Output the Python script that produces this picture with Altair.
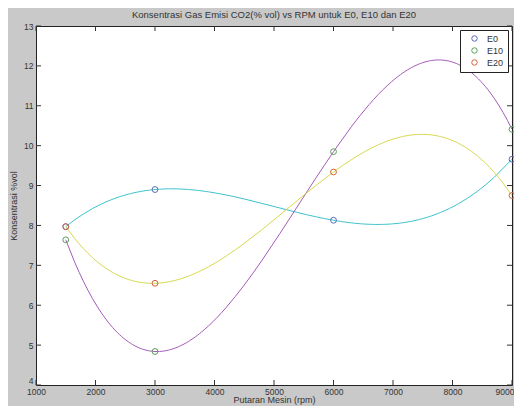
import altair as alt
import pandas as pd

rpm = [1500, 3000, 6000, 9000]
e0 = [7.97, 8.90, 8.13, 9.66]
e10 = [7.64, 4.84, 9.85, 10.41]
e20 = [7.97, 6.55, 9.34, 8.75]
series_names = ["E0", "E10", "E20"]
x_ticks = [1000, 2000, 3000, 4000, 5000, 6000, 7000, 8000, 9000]
y_ticks = [4, 5, 6, 7, 8, 9, 10, 11, 12, 13]
title_text = "Konsentrasi Gas Emisi CO2(% vol) vs RPM untuk E0, E10 dan E20"

marker_colors = ["#5a6cb8", "#5a9e5a", "#d2643c"]
line_colors = ["#3cc2cc", "#a45cb8", "#d8d84e"]

rows = []
for name, vals in zip(series_names, [e0, e10, e20]):
    for r, v in zip(rpm, vals):
        rows.append({"rpm": r, "val": v, "series": name})
df = pd.DataFrame(rows)
xt = pd.DataFrame({"rpm": x_ticks})
yt = pd.DataFrame({"val": y_ticks})
tt = pd.DataFrame({"t": [title_text]})

W, H = 476, 359
FONT = "Liberation Sans"
TXT = "#333333"

xscale = alt.Scale(domain=[1000, 9000], nice=False, zero=False)
yscale = alt.Scale(domain=[4, 13], nice=False, zero=False)

xaxis = alt.Axis(values=x_ticks, format="d", ticks=False, domain=False, grid=False,
                 labelOverlap=False, labelFontSize=8.5, labelFont=FONT, labelColor=TXT,
                 labelPadding=2,
                 labelAlign={"expr": "datum.value == 9000 ? 'right' : 'center'"},
                 labelOffset={"expr": "datum.value == 9000 ? 2 : 0"},
                 title="Putaran Mesin (rpm)", titleFontSize=9, titleFont=FONT,
                 titleFontWeight="normal", titleColor=TXT, titlePadding=0)
yaxis = alt.Axis(values=y_ticks, format="d", ticks=False, domain=False, grid=False,
                 labelOverlap=False, labelFontSize=8.5, labelFont=FONT, labelColor=TXT,
                 labelPadding=3,
                 labelBaseline={"expr": "datum.value == 4 ? 'bottom' : 'middle'"},
                 title="Konsentrasi %vol", titleFontSize=9, titleFont=FONT,
                 titleFontWeight="normal", titleColor=TXT, titlePadding=5)

X = alt.X("rpm:Q", scale=xscale, axis=xaxis)
Y = alt.Y("val:Q", scale=yscale, axis=yaxis)

lines = alt.Chart(df).transform_regression(
    "rpm", "val", method="poly", order=3, groupby=["series"]
).mark_line(strokeWidth=1, clip=True).encode(
    x=X, y=Y,
    color=alt.Color("series:N", scale=alt.Scale(domain=series_names, range=line_colors), legend=None),
    detail="series:N",
)

points = alt.Chart(df).mark_point(shape="circle", filled=False, size=34, strokeWidth=1, opacity=1).encode(
    x=X, y=Y,
    stroke=alt.Stroke("series:N", scale=alt.Scale(domain=series_names, range=marker_colors),
                      legend=alt.Legend(title=None, orient="top-right", offset=4,
                                        fillColor="white", strokeColor="#222222",
                                        padding=4, labelFont=FONT, labelFontSize=9,
                                        labelColor=TXT, symbolSize=30, symbolStrokeWidth=1,
                                        symbolType="circle", rowPadding=1,
                                        symbolOffset=6, labelOffset=8)),
    order=alt.Order("series:N"),
)

tick_color = "#333333"
xb = alt.Chart(xt).mark_rule(color=tick_color, strokeWidth=1).encode(
    x=X, y=alt.value(H), y2=alt.value(H - 5))
xtp = alt.Chart(xt).mark_rule(color=tick_color, strokeWidth=1).encode(
    x=X, y=alt.value(0), y2=alt.value(5))
yl = alt.Chart(yt).mark_rule(color=tick_color, strokeWidth=1).encode(
    y=Y, x=alt.value(0), x2=alt.value(5))
yr = alt.Chart(yt).mark_rule(color=tick_color, strokeWidth=1).encode(
    y=Y, x=alt.value(W - 5), x2=alt.value(W))

title = alt.Chart(tt).mark_text(font=FONT, fontSize=9.5, color=TXT, align="center",
                                baseline="alphabetic").encode(
    x=alt.value(W / 2), y=alt.value(-8), text="t:N")

chart = alt.layer(lines, xb, xtp, yl, yr, points, title).resolve_scale(
    color="independent"
).properties(
    width=W, height=H,
    autosize=alt.AutoSizeParams(type="none"),
    padding={"left": 28, "top": 18, "right": 2, "bottom": 21},
    background="#c9c9c9",
).configure_view(fill="white", stroke="#222222", strokeWidth=1)

chart.save("out.html", embed_options={"renderer": "svg", "actions": False})
